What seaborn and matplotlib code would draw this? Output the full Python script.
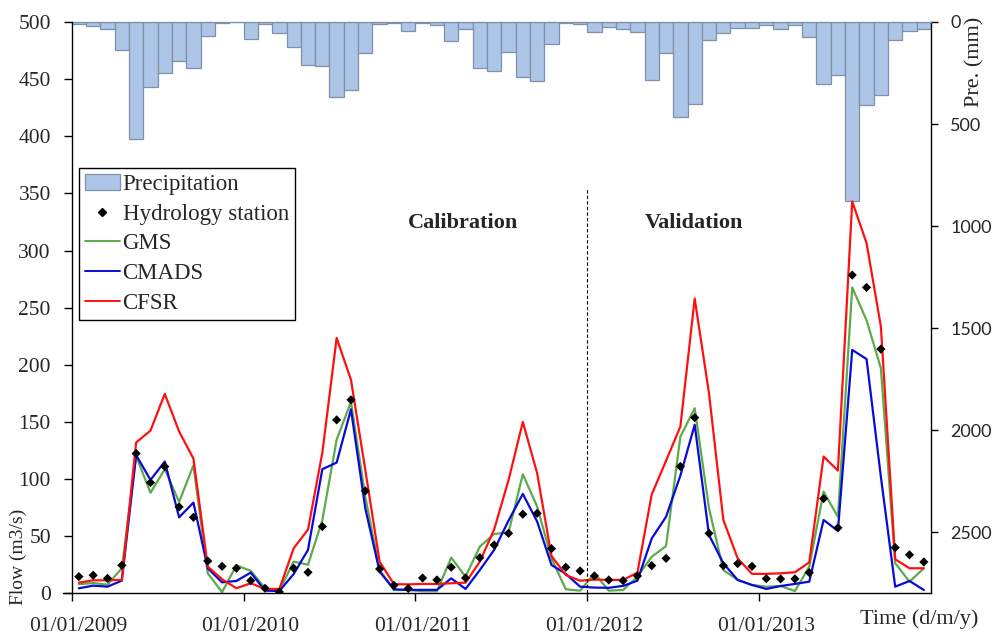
import numpy as np
import pandas as pd
import matplotlib
matplotlib.use("Agg")
import matplotlib.pyplot as plt
import seaborn as sns
from matplotlib.patches import Patch
from matplotlib.lines import Line2D
from matplotlib.transforms import ScaledTranslation

# Monthly series, Jan 2009 .. Dec 2013 (60 months)
months = np.arange(60)

# Monthly precipitation (mm)
precip = [11, 20, 36, 137, 572, 319, 248, 191, 224, 67, 3, 2,
          85, 10, 54, 121, 209, 214, 368, 332, 154, 10, 3, 46,
          3, 13, 95, 33, 227, 240, 147, 270, 288, 106, 3, 8,
          49, 23, 36, 47, 283, 150, 464, 404, 90, 54, 31, 31,
          13, 33, 16, 72, 302, 258, 878, 409, 356, 87, 44, 36]

# Observed flow at the hydrology station (m3/s)
observed = [14.6, 15.8, 13.1, 24.5, 122.3, 96.9, 110.9, 75.6, 66.5, 28.3, 23.6, 21.9,
            11.1, 4.4, 1.2, 21.9, 18.4, 58.4, 151.8, 169.3, 89.6, 21.3, 7.0, 4.2,
            13.4, 11.7, 22.8, 13.4, 31.2, 42.3, 52.5, 69.2, 70.0, 39.1, 22.8, 19.6,
            15.2, 11.7, 11.1, 15.2, 24.2, 30.6, 111.0, 153.8, 52.5, 24.2, 26.0, 23.6,
            12.8, 12.6, 12.6, 18.1, 82.9, 57.3, 278.5, 267.7, 213.7, 40.0, 33.7, 27.4]

# Simulated flow driven by each precipitation product (m3/s)
gms = [8.0, 9.0, 7.5, 22.0, 120.0, 88.0, 108.6, 80.0, 112.0, 17.5, 1.0, 24.5,
       19.6, 4.4, 2.3, 27.7, 25.0, 64.0, 134.5, 167.5, 84.6, 20.4, 2.8, 3.0,
       1.8, 1.8, 31.2, 14.6, 40.9, 52.0, 53.1, 104.2, 75.9, 30.6, 3.5, 2.3,
       17.5, 2.3, 2.9, 14.6, 32.0, 41.4, 137.0, 162.0, 74.4, 20.4, 11.7, 7.3,
       5.8, 6.4, 2.0, 23.4, 89.0, 67.0, 267.7, 239.0, 197.0, 26.3, 10.2, 21.9]

cmads = [4.4, 6.7, 5.8, 11.1, 121.0, 99.2, 115.3, 66.5, 79.4, 21.9, 9.6, 10.8,
         18.1, 2.3, 2.0, 16.9, 38.0, 108.6, 114.4, 161.0, 74.4, 19.0, 3.5, 2.9,
         3.0, 3.0, 13.1, 3.8, 20.4, 38.0, 63.6, 87.0, 62.8, 24.8, 17.0, 5.8,
         5.0, 4.8, 6.5, 11.0, 48.0, 67.0, 103.0, 147.5, 51.0, 26.3, 11.7, 7.3,
         3.8, 6.4, 8.2, 10.2, 64.2, 54.6, 213.0, 205.0, 102.0, 5.8, 10.8, 2.9]

cfsr = [9.3, 11.4, 11.4, 11.7, 132.0, 142.4, 174.5, 141.6, 117.9, 23.4, 12.3, 4.4,
        8.8, 3.8, 3.8, 39.4, 55.8, 123.0, 223.5, 186.8, 108.0, 27.7, 8.0, 7.8,
        8.2, 8.2, 8.8, 9.3, 27.7, 56.0, 99.0, 150.0, 105.0, 32.7, 16.0, 11.0,
        12.0, 11.7, 11.7, 18.1, 86.5, 116.0, 146.0, 258.0, 175.0, 64.2, 30.6, 17.0,
        17.0, 17.5, 18.4, 27.1, 119.7, 107.4, 343.0, 306.5, 233.5, 29.8, 21.9, 21.9]

year_ticks = [0, 12, 24, 36, 48]
year_labels = ["01/01/2009", "01/01/2010", "01/01/2011", "01/01/2012", "01/01/2013"]
split_month = 36          # start of the validation period
flow_ticks = list(range(0, 501, 50))
rain_ticks = list(range(0, 2501, 500))

palette = {"GMS": "#5cab4a", "CMADS": "#0a0ad8", "CFSR": "#ff1010"}
bar_fill = "#adc6e8"
bar_edge = "#7f90a8"

sns.set_style("white")
plt.rcParams["font.family"] = ["Liberation Serif", "DejaVu Serif"]

fig = plt.figure(figsize=(9.95, 6.35), dpi=100)
ax = fig.add_axes([71.7 / 995, 1 - 593.3 / 635, (931 - 71.7) / 995, (593.3 - 22) / 635])
ax2 = ax.twinx()

mid = months + 0.5

# Precipitation bars hanging from the top (inverted right axis)
rain = pd.DataFrame({"x": mid, "precip": precip})
sns.barplot(data=rain, x="x", y="precip", native_scale=True, width=1, orient="x",
            color=bar_fill, edgecolor=bar_edge, linewidth=0.9, saturation=1,
            errorbar=None, ax=ax2)

# Simulated flows
flows = pd.concat([
    pd.DataFrame({"x": mid, "flow": vals, "source": name})
    for name, vals in [("GMS", gms), ("CMADS", cmads), ("CFSR", cfsr)]
])
sns.lineplot(data=flows, x="x", y="flow", hue="source", palette=palette,
             linewidth=1.6, sort=False, legend=False, ax=ax)

# Observed flow
sns.scatterplot(x=mid, y=observed, marker="D", color="black", s=22,
                edgecolor="none", zorder=5, ax=ax)

# Calibration / validation split
ax.vlines(split_month, 0, 355, colors="black", linestyles=(0, (3, 2)), linewidth=0.8)
ax.text(27.3, 324, "Calibration", ha="center", va="center", fontweight="bold", fontsize=16)
ax.text(43.45, 324, "Validation", ha="center", va="center", fontweight="bold", fontsize=16)

# Axes limits and ticks
ax.set_xlim(0, 60)
ax.set_ylim(0, 500)
ax.set_yticks(flow_ticks)
ax.set_xticks(year_ticks)
ax.set_xticklabels(year_labels)
ax2.set_ylim(2800, 0)
ax2.set_yticks(rain_ticks)
ax2.set_xlim(0, 60)
for a in (ax, ax2):
    a.set_xlabel("")
    a.set_ylabel("")

ax.set_zorder(ax2.get_zorder() + 1)
ax.patch.set_visible(False)

for name in ("top", "right"):
    ax.spines[name].set_visible(False)
for name in ("left", "bottom"):
    ax.spines[name].set_color("black")
    ax.spines[name].set_linewidth(1.0)
ax.spines["bottom"].set_bounds(-0.6, 60)
ax2.spines["left"].set_visible(False)
ax2.spines["bottom"].set_visible(False)
ax2.spines["right"].set_color("black")
ax2.spines["right"].set_linewidth(1.0)
ax2.spines["top"].set_color(bar_edge)
ax2.spines["top"].set_linewidth(0.9)

ax.tick_params(axis="y", left=True, direction="out", length=6, width=1, pad=9,
               labelsize=15.5, color="black")
ax.tick_params(axis="x", bottom=True, direction="out", length=6, width=1, pad=11,
               labelsize=15.5, color="black")
ax2.tick_params(axis="y", right=True, direction="out", length=5, width=1, pad=9,
                labelsize=13, color="black")
for t in ax2.get_yticklabels():
    t.set_fontfamily(["Lato", "DejaVu Sans"])
shift = ScaledTranslation(7 / 100, 0, fig.dpi_scale_trans)
for t in ax.get_xticklabels():
    t.set_transform(t.get_transform() + shift)

# Axis titles
fig.text(18 / 995, 1 - 557 / 635, "Flow (m3/s)", rotation=90, ha="center", va="center", fontsize=14)
fig.text(975 / 995, 1 - 62 / 635, "Pre. (mm)", rotation=90, ha="center", va="center", fontsize=16)
fig.text(919 / 995, 1 - 619 / 635, "Time (d/m/y)", ha="center", va="center", fontsize=16)

# Legend
handles = [
    Patch(facecolor=bar_fill, edgecolor=bar_edge, linewidth=0.9),
    Line2D([], [], linestyle="none", marker="D", markersize=4, color="black"),
    Line2D([], [], color=palette["GMS"], linewidth=1.4),
    Line2D([], [], color=palette["CMADS"], linewidth=1.4),
    Line2D([], [], color=palette["CFSR"], linewidth=1.4),
]
labels = ["Precipitation", "Hydrology station", "GMS", "CMADS", "CFSR"]
leg = ax.legend(handles, labels, loc="upper left", bbox_to_anchor=(79 / 995, 1 - 168 / 635),
                bbox_transform=fig.transFigure, frameon=True, fancybox=False,
                edgecolor="black", framealpha=1, fontsize=16.5, handlelength=1.55,
                handletextpad=0.1, labelspacing=0.38, borderpad=0.25, borderaxespad=0)
leg.get_frame().set_linewidth(1.0)

fig.savefig("out.png", dpi=100)
